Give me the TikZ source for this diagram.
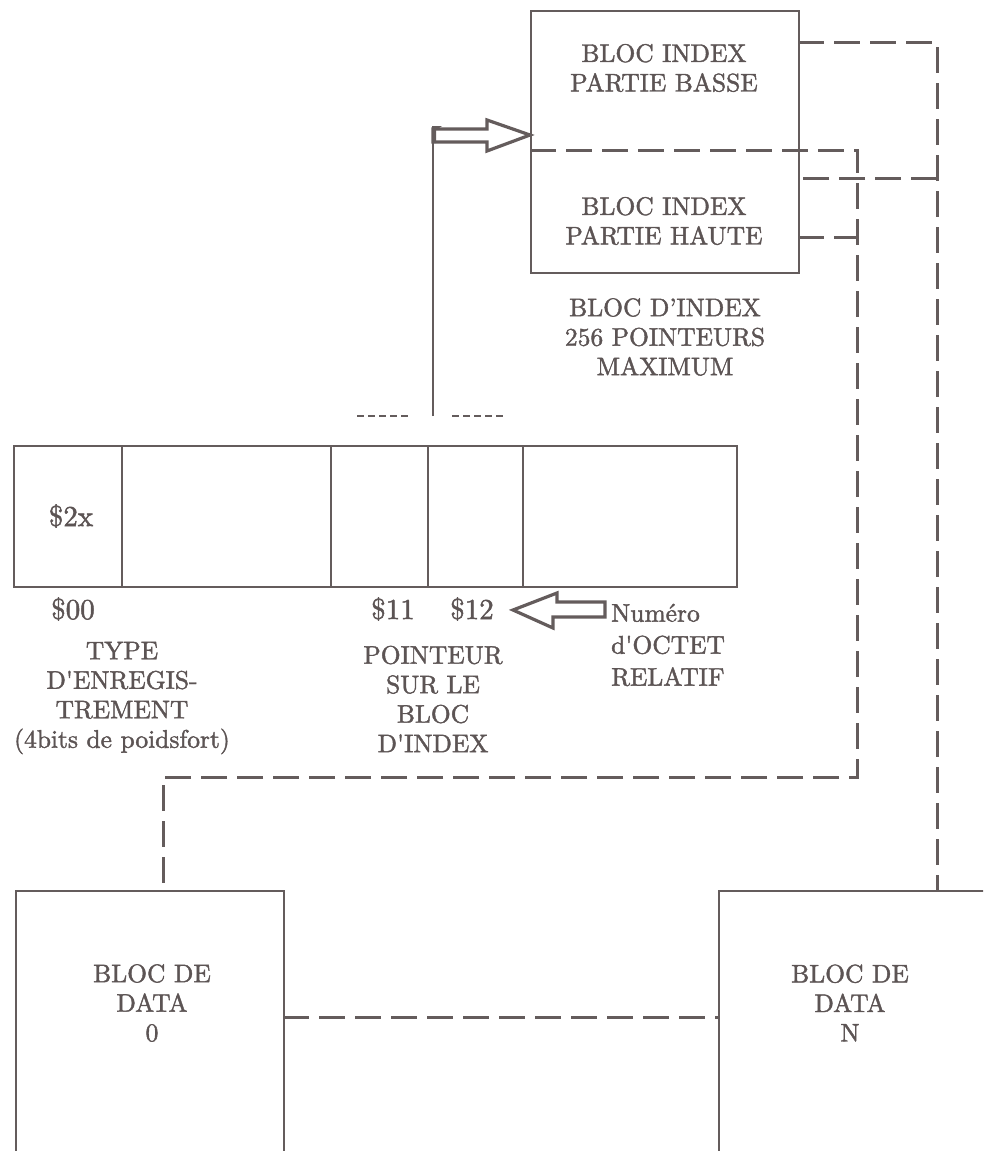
\documentclass[tikz,border=0pt]{standalone}
\usepackage{fontspec}
\setmainfont{lmroman10-regular.otf}[FakeBold=1.6]
\definecolor{ink}{RGB}{100,92,92}
\definecolor{textink}{RGB}{92,84,84}
\tikzset{
  box/.style={draw=ink, line width=1.6pt, inner sep=0pt},
  lbl/.style={text=textink, font=\fontsize{25.5}{29.5}\selectfont, align=center, inner sep=0pt},
  num/.style={lbl, font=\fontsize{29}{32}\selectfont},
  dsh/.style={draw=ink, line width=3pt, dash pattern=on 26pt off 10pt},
  fine/.style={draw=ink, line width=1.5pt},
  tinydash/.style={draw=ink, line width=2.6pt, dash pattern=on 7pt off 4pt},
  hollow/.style={draw=ink, fill=white, line width=3.2pt, line join=miter},
}
\begin{document}
\begin{tikzpicture}[x=1pt, y=-1pt]
\useasboundingbox (0,0) rectangle (983,1151);
\clip (0,0) rectangle (983,1151);

% index block
\node[box, minimum width=268pt, minimum height=262pt, anchor=north west] (idx) at (530,10) {};
\node[lbl] (idxlo) at (664,68) {BLOC INDEX\\PARTIE BASSE};
\node[lbl] (idxhi) at (664,221) {BLOC INDEX\\PARTIE HAUTE};
\node[lbl] (idxcap) at (665,337) {BLOC D’INDEX\\256 POINTEURS\\MAXIMUM};

% record
\node[box, minimum width=108pt, minimum height=141pt, anchor=north west] (c1) at (13,445) {};
\node[box, minimum width=209pt, minimum height=141pt, anchor=north west] (c2) at (121,445) {};
\node[box, minimum width=97pt, minimum height=141pt, anchor=north west] (c3) at (330,445) {};
\node[box, minimum width=95pt, minimum height=141pt, anchor=north west] (c4) at (427,445) {};
\node[box, minimum width=214pt, minimum height=141pt, anchor=north west] (c5) at (522,445) {};
\node[num] (t2x) at (71,516) {\$2x};
\node[num] (t00) at (73,609) {\$00};
\node[num] (t11) at (393,609) {\$11};
\node[num] (t12) at (472,609) {\$12};
\node[lbl] (ttype) at (122,698) {TYPE\\D\textquotesingle ENREGIS-\\TREMENT\\(4bits de poidsfort)};
\node[lbl] (tptr) at (433,699) {POINTEUR\\SUR LE\\BLOC\\D\textquotesingle INDEX};
\node[lbl, align=left, anchor=west, font=\fontsize{25.5}{32}\selectfont] (tnum) at (611,645) {Numéro\\d\textquotesingle OCTET\\RELATIF};

% small dashes above record
\coordinate (sa1) at (357,416); \coordinate (sa2) at (408,416);
\coordinate (sb1) at (452,416); \coordinate (sb2) at (503,416);
\draw[tinydash] (sa1) -- (sa2);
\draw[tinydash] (sb1) -- (sb2);

% pointer line and hollow arrow to index block
\coordinate (ptr) at (433,416);
\coordinate (arrbase) at (433,130);
\draw[fine] (ptr) -- (arrbase);
\draw[hollow] (433,129) -- (487,129) -- (487,120) -- (idx.west |- 0,135) -- (487,151) -- (487,142) -- (433,142) -- cycle;
\fill[ink] (432,126) -- (442,126) -- (436,130) -- (436,143) -- (432,143) -- cycle;

% hollow arrow to $12
\draw[hollow] (513,610) -- (557,593) -- (557,602) -- (605,602) -- (605,617) -- (553,617) -- (553,628) -- cycle;

% data blocks
\node[box, minimum width=268pt, minimum height=320pt, anchor=north west] (d0) at (15,890) {};
\node[box, minimum width=300pt, minimum height=320pt, anchor=north west] (dN) at (718,890) {};
\node[lbl] (d0t) at (152,1003) {BLOC DE\\DATA\\0};
\node[lbl] (dNt) at (850,1003) {BLOC DE\\DATA\\N};

% dashed connectors
\coordinate (ia) at (798,42);
\coordinate (ib) at (937,42);
\coordinate (ic) at (937,178);
\coordinate (id) at (798,178);
\coordinate (ie) at (530,150);
\coordinate (if) at (857,150);
\coordinate (ig) at (857,777);
\coordinate (ih) at (163,777);
\coordinate (ii) at (798,237);
\coordinate (m0) at (283,1017);
\coordinate (mN) at (718,1017);
\draw[dsh] (ia) -- (ib) -- (ib |- dN.north);
\draw[dsh] (ic) -- (id);
\draw[dsh] (ie) -- (if) -- (ig) -- (ih) -- (ih |- d0.north);
\draw[dsh] (ii) -- (ii -| if);
\draw[dsh] (m0) -- (mN);
\end{tikzpicture}
\end{document}
